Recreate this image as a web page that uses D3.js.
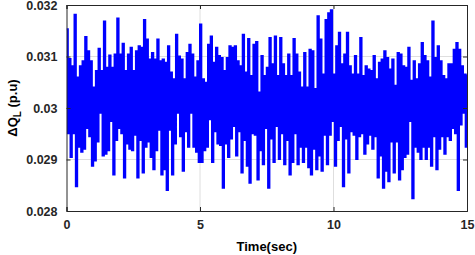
<!DOCTYPE html>
<html>
<head>
<meta charset="utf-8">
<script src="https://cdn.jsdelivr.net/npm/d3@7"></script>
<style>
  html, body { margin: 0; padding: 0; background: #fff; }
  svg { display: block; }
  text { font-family: "Liberation Sans", Arial, Helvetica, sans-serif; font-weight: bold; }
</style>
</head>
<body>
<svg id="chart" width="475" height="255"></svg>
<script>
// ---- data ----
const sampleTime = 0.1; // seconds between successive peak/trough pairs
// local maxima of ΔQ_L in each 0.1 s interval (p.u)
const upperEnvelope = [
  0.03153, 0.03095, 0.03081, 0.03181, 0.03059, 0.03081, 0.03091, 0.03138, 0.03110, 0.03091,
  0.03040, 0.03072, 0.03115, 0.03072, 0.03168, 0.03078, 0.03102, 0.03078, 0.03104, 0.03174,
  0.03104, 0.03125, 0.03072, 0.03104, 0.03117, 0.03072, 0.03110, 0.03120, 0.03117, 0.03171,
  0.03133, 0.03094, 0.03107, 0.03094, 0.03133, 0.03091, 0.03094, 0.03088, 0.03120, 0.03069,
  0.03056, 0.03142, 0.03100, 0.03094, 0.03056, 0.03107, 0.03123, 0.03104, 0.03059, 0.03091,
  0.03162, 0.03056, 0.03049, 0.03123, 0.03139, 0.03088, 0.03117, 0.03101, 0.03097, 0.03072,
  0.03097, 0.03120, 0.03117, 0.03120, 0.03091, 0.03081, 0.03142, 0.03069, 0.03134, 0.03062,
  0.03123, 0.03128, 0.03030, 0.03101, 0.03062, 0.03078, 0.03136, 0.03085, 0.03139, 0.03062,
  0.03136, 0.03085, 0.03062, 0.03104, 0.03062, 0.03134, 0.03104, 0.03069, 0.03040, 0.03107,
  0.03040, 0.03113, 0.03110, 0.03037, 0.03178, 0.03133, 0.03065, 0.03171, 0.03184, 0.03190,
  0.03065, 0.03120, 0.03146, 0.03085, 0.03104, 0.03146, 0.03081, 0.03065, 0.03101, 0.03065,
  0.03136, 0.03062, 0.03081, 0.03075, 0.03072, 0.03101, 0.03056, 0.03088, 0.03094, 0.03110,
  0.03097, 0.03075, 0.03094, 0.03043, 0.03107, 0.03104, 0.03081, 0.03078, 0.03117, 0.03053,
  0.03091, 0.03056, 0.03085, 0.03126, 0.03101, 0.03091, 0.03059, 0.03168, 0.03097, 0.03120,
  0.03091, 0.03062, 0.03056, 0.03085, 0.03085, 0.03113, 0.03126, 0.03113, 0.03081, 0.03065
];
// local minima of ΔQ_L in each 0.1 s interval (p.u)
const lowerEnvelope = [
  0.02951, 0.02905, 0.02951, 0.02848, 0.02925, 0.02915, 0.02921, 0.02961, 0.02945, 0.02888,
  0.02898, 0.02935, 0.02991, 0.02908, 0.02911, 0.02918, 0.02975, 0.02871, 0.02938, 0.02961,
  0.02951, 0.02865, 0.02931, 0.02921, 0.02918, 0.02948, 0.02865, 0.02938, 0.02875, 0.02925,
  0.02935, 0.02905, 0.02881, 0.02918, 0.02958, 0.02871, 0.02881, 0.02841, 0.02958, 0.02871,
  0.02931, 0.02991, 0.02945, 0.02878, 0.02955, 0.02925, 0.02991, 0.02925, 0.02915, 0.02895,
  0.02895, 0.02918, 0.02925, 0.02978, 0.02895, 0.02955, 0.02931, 0.02928, 0.02845, 0.02931,
  0.02905, 0.02941, 0.02965, 0.02908, 0.02955, 0.02875, 0.02938, 0.02888, 0.02855, 0.02951,
  0.02948, 0.02861, 0.02918, 0.02891, 0.02961, 0.02845, 0.02941, 0.02895, 0.02965, 0.02901,
  0.02951, 0.02891, 0.02938, 0.02871, 0.02895, 0.02951, 0.02891, 0.02925, 0.02895, 0.02925,
  0.02885, 0.02871, 0.02921, 0.02881, 0.02908, 0.02878, 0.02948, 0.02891, 0.02948, 0.02975,
  0.02888, 0.02938, 0.02965, 0.02848, 0.02941, 0.02875, 0.02955, 0.02948, 0.02901, 0.02945,
  0.02951, 0.02911, 0.02931, 0.02948, 0.02921, 0.02945, 0.02865, 0.02908, 0.02845, 0.02878,
  0.02858, 0.02935, 0.02875, 0.02935, 0.02861, 0.02881, 0.02905, 0.02911, 0.02975, 0.02825,
  0.02925, 0.02915, 0.02901, 0.02925, 0.02901, 0.02925, 0.02888, 0.02945, 0.02881, 0.02921,
  0.02945, 0.02911, 0.02945, 0.02938, 0.02961, 0.02951, 0.02841, 0.02968, 0.02991, 0.02925
];
const xTicks = [0, 5, 10, 15];
const yTicks = [0.028, 0.029, 0.030, 0.031, 0.032];
const yTickLabels = ["0.028", "0.029", "0.03", "0.031", "0.032"];
const xDomain = [0, 15];
const yDomain = [0.028, 0.032];

// ---- layout ----
const svg = d3.select("#chart");
const m = { left: 66.5, right: 467, top: 5, bottom: 211 };
const x = d3.scaleLinear().domain(xDomain).range([m.left, m.right]);
const y = d3.scaleLinear().domain(yDomain).range([m.bottom, m.top]);

// build signal: peak then trough in each interval (sample-and-hold)
const signal = [];
upperEnvelope.forEach((u, i) => {
  signal.push({ t: i * sampleTime, v: u });
  signal.push({ t: i * sampleTime + sampleTime / 2, v: lowerEnvelope[i] });
});
signal.push({ t: 15, v: upperEnvelope[upperEnvelope.length - 1] });

// grid
const grid = svg.append("g");
grid.selectAll("line.gx").data(xTicks.slice(1, -1)).enter().append("line")
  .attr("x1", d => x(d)).attr("x2", d => x(d))
  .attr("y1", m.top).attr("y2", m.bottom)
  .attr("stroke", "#dedede").attr("stroke-width", 1);
grid.selectAll("line.gy").data(yTicks.slice(1, -1)).enter().append("line")
  .attr("x1", m.left).attr("x2", m.right)
  .attr("y1", d => y(d)).attr("y2", d => y(d))
  .attr("stroke", "#dedede").attr("stroke-width", 1);

// clip
svg.append("clipPath").attr("id", "clip").append("rect")
  .attr("x", m.left).attr("y", m.top)
  .attr("width", m.right - m.left).attr("height", m.bottom - m.top);

// signal line
svg.append("path")
  .datum(signal)
  .attr("clip-path", "url(#clip)")
  .attr("fill", "none")
  .attr("stroke", "#0000ff")
  .attr("stroke-width", 2)
  .attr("stroke-linejoin", "miter")
  .attr("d", d3.line().curve(d3.curveStepAfter).x(d => x(d.t)).y(d => y(d.v)));

// axes (MATLAB-like, ticks inward)
const axisColor = "#262626";
const xAxis = svg.append("g").attr("transform", `translate(0,${m.bottom})`)
  .call(d3.axisBottom(x).tickValues(xTicks).tickSize(-4).tickPadding(9).tickFormat(d3.format("d")));
const xAxisTop = svg.append("g").attr("transform", `translate(0,${m.top})`)
  .call(d3.axisTop(x).tickValues(xTicks).tickSize(-4).tickFormat(""));
const yAxis = svg.append("g").attr("transform", `translate(${m.left},0)`)
  .call(d3.axisLeft(y).tickValues(yTicks).tickSize(-4).tickPadding(9)
    .tickFormat((d, i) => yTickLabels[i]));
const yAxisRight = svg.append("g").attr("transform", `translate(${m.right},0)`)
  .call(d3.axisRight(y).tickValues(yTicks).tickSize(-4).tickFormat(""));

[xAxis, xAxisTop, yAxis, yAxisRight].forEach(g => {
  g.selectAll("path.domain").attr("stroke", axisColor).attr("stroke-width", 1);
  g.selectAll(".tick line").attr("stroke", axisColor);
  g.selectAll("text").attr("fill", "#262626").style("font-size", "12.5px")
    .style("font-family", "'Liberation Sans', Arial, sans-serif").style("font-weight", "bold");
});
xAxis.selectAll("text").attr("dy", "0.71em");

// labels
svg.append("text")
  .attr("x", (m.left + m.right) / 2).attr("y", 251)
  .attr("text-anchor", "middle")
  .style("font-size", "13px").attr("fill", "#000")
  .text("Time(sec)");

const yl = svg.append("text")
  .attr("transform", `translate(17,${(m.top + m.bottom) / 2}) rotate(-90)`)
  .attr("text-anchor", "middle")
  .style("font-size", "13px").attr("fill", "#000");
yl.append("tspan").text("\u0394Q");
yl.append("tspan").attr("dy", 4).style("font-size", "10px").text("L");
yl.append("tspan").attr("dy", -4).text(" (p.u)");
</script>
</body>
</html>
